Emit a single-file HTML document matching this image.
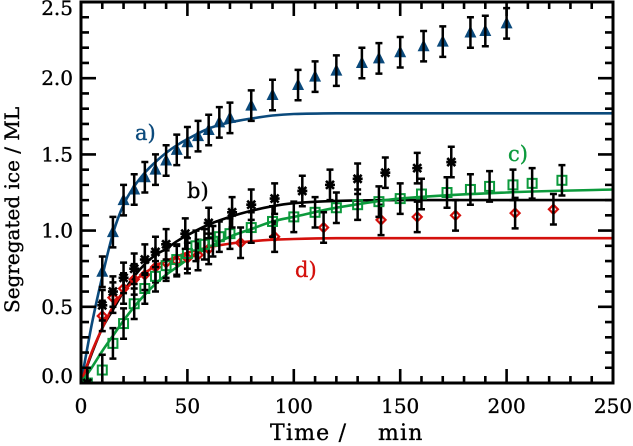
<!DOCTYPE html>
<html>
<head>
<meta charset="utf-8">
<style>
html,body{margin:0;padding:0;background:#fff;width:633px;height:446px;overflow:hidden}
svg{display:block}
text{font-family:"DejaVu Serif","Liberation Serif",serif;font-size:20px;fill:#000;stroke:#000;stroke-width:0.35px}
</style>
</head>
<body>
<svg id="chart" width="633" height="446" viewBox="0 0 633 446" xmlns="http://www.w3.org/2000/svg">
<defs><clipPath id="plot-clip"><rect x="81" y="2" width="532" height="381"></rect></clipPath></defs>
</svg>
<script>
const xTicksMajor = [0, 50, 100, 150, 200, 250];
const yTicksMajor = [0.0, 0.5, 1.0, 1.5, 2.0, 2.5];
const xTickLabels = ["0", "50", "100", "150", "200", "250"];
const yTickLabels = ["0.0", "0.5", "1.0", "1.5", "2.0", "2.5"];

const aTimes = [10,15,20,25,30,35,40,45,50,55,60,65,70,80,90,102,110,120,132,140,150,161,170,183,190,200];
const aValues = [0.73,0.99,1.20,1.27,1.35,1.40,1.46,1.53,1.58,1.62,1.66,1.71,1.74,1.82,1.89,1.955,2.01,2.05,2.10,2.13,2.17,2.21,2.24,2.30,2.31,2.36];
const bTimes = [3,10,15,20,25,30,35,40,49,60,71,80,91,104,117,130,143,158,174];
const bValues = [0.0,0.51,0.60,0.69,0.75,0.81,0.86,0.91,0.98,1.05,1.12,1.17,1.21,1.26,1.30,1.34,1.38,1.41,1.45];
const cTimes = [3,10,15,20,25,30,35,40,45,50,54,58,62,65,70,80,90,100,110,120,130,140,150,160,172,183,192,203,212,226];
const cValues = [0.0,0.085,0.26,0.39,0.52,0.62,0.70,0.77,0.81,0.85,0.90,0.91,0.93,0.96,0.98,1.02,1.06,1.09,1.12,1.15,1.17,1.19,1.21,1.24,1.25,1.27,1.29,1.30,1.31,1.33];
const dTimes = [10,15,20,25,30,35,40,45,50,55,60,75,91,114,141,158,176,204,222];
const dValues = [0.44,0.56,0.62,0.68,0.71,0.76,0.79,0.80,0.82,0.84,0.88,0.92,0.96,1.02,1.07,1.09,1.10,1.115,1.14];
const errA = 0.1;
const errB = 0.1;
const errC = 0.1;
const errD = 0.1;

const curveTimes = [0,5,10,15,20,25,30,35,40,45,50,60,70,80,90,100,120,150,200,250];
const curveA = [0,0.38,0.70,0.98,1.17,1.29,1.38,1.45,1.51,1.56,1.60,1.67,1.71,1.735,1.755,1.765,1.77,1.77,1.77,1.77];
const curveB = [0,0.19,0.36,0.48,0.60,0.70,0.78,0.84,0.88,0.93,0.97,1.04,1.09,1.13,1.16,1.18,1.195,1.20,1.20,1.20];
const curveC = [0,0.10,0.21,0.31,0.41,0.50,0.58,0.65,0.71,0.76,0.81,0.89,0.96,1.01,1.06,1.09,1.15,1.21,1.25,1.27];
const curveD = [0,0.20,0.36,0.50,0.60,0.67,0.72,0.77,0.80,0.83,0.855,0.89,0.915,0.93,0.94,0.945,0.95,0.95,0.95,0.95];

const BLUE = "#0b4a7c", RED = "#d4100c", GREEN = "#0c9a3c";
const svg = document.getElementById("chart");
const NS = "http://www.w3.org/2000/svg";
const X = t => 81 + t * 2.128;
const Y = v => 383 - v * 152.4;

function make(tag, attrs, parent) {
  const el = document.createElementNS(NS, tag);
  for (const k in attrs) el.setAttribute(k, attrs[k]);
  (parent || svg).appendChild(el);
  return el;
}
function group(name) {
  const g = make("g", {"clip-path": "url(#plot-clip)"});
  
  
  return g;
}
function drawCurve(values, color, name) {
  const pts = curveTimes.map((t, i) => [X(t), Y(values[i])]);
  let d = "M" + pts[0][0].toFixed(1) + " " + pts[0][1].toFixed(1);
  for (let i = 0; i < pts.length - 1; i++) {
    const p0 = pts[Math.max(i - 1, 0)], p1 = pts[i], p2 = pts[i + 1], p3 = pts[Math.min(i + 2, pts.length - 1)];
    const h = p2[0] - p1[0];
    const s1 = (p2[1] - p0[1]) / (p2[0] - p0[0]);
    const s2 = (p3[1] - p1[1]) / (p3[0] - p1[0]);
    d += "C" + (p1[0] + h / 3).toFixed(1) + " " + (p1[1] + s1 * h / 3).toFixed(1) + " " +
         (p2[0] - h / 3).toFixed(1) + " " + (p2[1] - s2 * h / 3).toFixed(1) + " " +
         p2[0].toFixed(1) + " " + p2[1].toFixed(1);
  }
  const el = make("path", {d: d, fill: "none", stroke: color, "stroke-width": 2.6, "stroke-linejoin": "round", "clip-path": "url(#plot-clip)"});
  
  
}
function marker(kind, x, y, parent) {
  if (kind === "triangle") {
    return make("polygon", {points: `${x},${y-7} ${x+6},${y+5} ${x-6},${y+5}`, fill: BLUE}, parent);
  }
  if (kind === "star") {
    const d = `M${x-4} ${y-4}L${x+4} ${y+4}M${x+4} ${y-4}L${x-4} ${y+4}M${x} ${y-5}V${y+5}M${x-5} ${y}H${x+5}`;
    return make("path", {d: d, fill: "none", stroke: "#000", "stroke-width": 2.6}, parent);
  }
  if (kind === "square") {
    return make("rect", {x: x-4.5, y: y-4.5, width: 9, height: 9, fill: "none", stroke: GREEN, "stroke-width": 2}, parent);
  }
  return make("polygon", {points: `${x},${y-4.5} ${x+4.5},${y} ${x},${y+4.5} ${x-4.5},${y}`, fill: "none", stroke: RED, "stroke-width": 2.2}, parent);
}
function drawSeries(times, values, err, kind, name) {
  const g = group(name);
  times.forEach((t, i) => {
    const x = X(t), y = Y(values[i]);
    const m = marker(kind, x, y, g);
    
    
    const top = Y(values[i] + err);
    const rawBottom = Y(values[i] - err);
    const bottom = Math.min(rawBottom, 383);
    let d = `M${x} ${top}V${bottom}M${x-3.5} ${top}H${x+3.5}`;
    if (rawBottom <= 383) d += `M${x-3.5} ${bottom}H${x+3.5}`;
    const bar = make("path", {d: d, fill: "none", stroke: "#000", "stroke-width": 2.5}, g);
    
    
  });
}

drawCurve(curveA, BLUE, "fit-curve-a");
drawCurve(curveB, "#000", "fit-curve-b");
drawCurve(curveD, RED, "fit-curve-d");
drawCurve(curveC, GREEN, "fit-curve-c");
drawSeries(dTimes, dValues, errD, "diamond", "series-d");
drawSeries(cTimes, cValues, errC, "square", "series-c");
drawSeries(bTimes, bValues, errB, "star", "series-b");
drawSeries(aTimes, aValues, errA, "triangle", "series-a");

/* frame and ticks */
const axes = make("g", {});


const frame = make("rect", {x: 81, y: 2, width: 532, height: 381, fill: "none", stroke: "#000", "stroke-width": 3}, axes);


let tickPath = "";
for (let i = 0; i < xTicksMajor.length - 1; i++) {
  const start = xTicksMajor[i], step = (xTicksMajor[i + 1] - start) / 5;
  for (let j = 0; j < 5; j++) {
    const x = X(start + j * step), len = j === 0 ? 14 : 7;
    tickPath += `M${x} 383V${383 - len}M${x} 2V${2 + len}`;
  }
}
for (let i = 0; i < yTicksMajor.length - 1; i++) {
  const start = yTicksMajor[i], step = (yTicksMajor[i + 1] - start) / 5;
  for (let j = 0; j < 5; j++) {
    const y = Y(start + j * step), len = j === 0 ? 15 : 8;
    tickPath += `M81 ${y}H${81 + len}M613 ${y}H${613 - len}`;
  }
}
const ticks = make("path", {d: tickPath, fill: "none", stroke: "#000", "stroke-width": 2.6}, axes);



xTicksMajor.forEach((t, i) => {
  const el = make("text", {x: X(t), y: 413, "text-anchor": "middle"}, axes);
  el.textContent = xTickLabels[i];
  
  
});
yTicksMajor.forEach((v, i) => {
  const shift = i === 0 ? 0 : (i === yTicksMajor.length - 1 ? 13 : 7);
  const el = make("text", {x: 73, y: Y(v) + shift, "text-anchor": "end"}, axes);
  el.textContent = yTickLabels[i];
  
  
});
</script>
<script>
const overlay = document.getElementById("chart");
const SVGNS = "http://www.w3.org/2000/svg";
const labels = [
  ["a)", 135, 140, "#0b4a7c", "label-a"],
  ["b)", 187, 198, "#000", "label-b"],
  ["c)", 508, 161, "#0c9a3c", "label-c"],
  ["d)", 295, 277, "#d4100c", "label-d"]
];
labels.forEach(l => {
  const el = document.createElementNS(SVGNS, "text");
  el.setAttribute("x", l[1]);
  el.setAttribute("y", l[2]);
  el.setAttribute("style", "font-size:21px;fill:" + l[3] + ";stroke:" + l[3]);
  el.textContent = l[0];
  
  
  overlay.appendChild(el);
});
const xTitleA = document.createElementNS(SVGNS, "text");
xTitleA.setAttribute("x", 270);
xTitleA.setAttribute("y", 440);
xTitleA.setAttribute("style", "font-size:22px;letter-spacing:1.2px");
xTitleA.textContent = "Time /";


overlay.appendChild(xTitleA);
const xTitleB = document.createElementNS(SVGNS, "text");
xTitleB.setAttribute("x", 378);
xTitleB.setAttribute("y", 440);
xTitleB.setAttribute("style", "font-size:22px;letter-spacing:1.2px");
xTitleB.textContent = "min";


overlay.appendChild(xTitleB);
const yTitle = document.createElementNS(SVGNS, "text");
yTitle.setAttribute("transform", "translate(19,313) rotate(-90)");
yTitle.textContent = "Segregated ice / ML";


overlay.appendChild(yTitle);
</script>
</body>
</html>
